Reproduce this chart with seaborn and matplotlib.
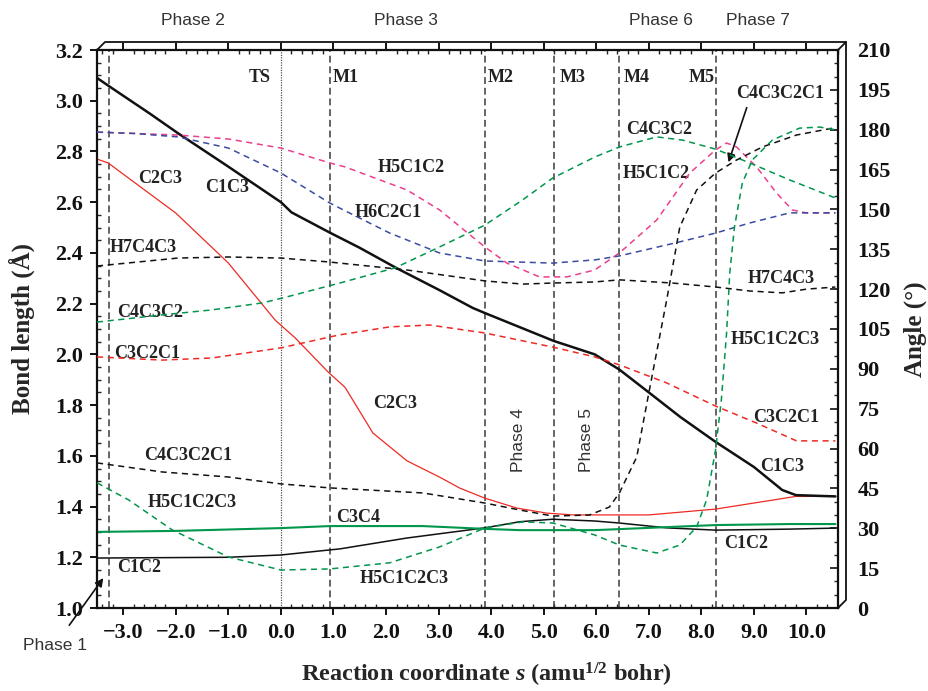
import seaborn as sns
import matplotlib.pyplot as plt
from matplotlib.lines import Line2D
from matplotlib.ticker import MultipleLocator, FuncFormatter

# ---- bond lengths (Angstrom), left axis ----
s_c1c3 = [-3.5, -3.29, -2.5, -1.96, -1.0, 0.0, 0.2, 0.93, 1.5, 2.2, 3.0, 3.65, 3.88,
          5.19, 5.97, 6.44, 7.0, 7.6, 8.27, 9.0, 9.54, 9.8, 10.55]
c1c3 = [3.09, 3.06, 2.95, 2.872, 2.74, 2.60, 2.56, 2.48, 2.42, 2.34, 2.255, 2.183, 2.163,
        2.053, 2.0, 1.94, 1.85, 1.753, 1.655, 1.556, 1.465, 1.445, 1.44]

s_c2c3 = [-3.5, -3.29, -2.0, -1.0, -0.11, 0.27, 0.9, 1.22, 1.75, 2.4, 3.02, 3.4, 3.88,
          4.49, 5.06, 5.55, 7.0, 8.27, 9.8, 10.55]
c2c3 = [2.77, 2.755, 2.557, 2.36, 2.135, 2.065, 1.93, 1.87, 1.69, 1.58, 1.516, 1.473, 1.433,
        1.394, 1.374, 1.367, 1.367, 1.39, 1.44, 1.44]

s_c1c2 = [-3.5, -1.0, 0.0, 0.93, 1.12, 2.4, 3.88, 4.54, 5.17, 5.97, 6.44, 7.34, 8.27, 9.68, 10.55]
c1c2 = [1.197, 1.20, 1.209, 1.229, 1.233, 1.276, 1.316, 1.34, 1.35, 1.343, 1.335, 1.316,
        1.307, 1.311, 1.315]

s_c3c4 = [-3.5, -2.0, 0.0, 0.93, 2.7, 3.88, 4.54, 5.97, 6.44, 8.27, 9.68, 10.55]
c3c4 = [1.30, 1.304, 1.315, 1.323, 1.323, 1.312, 1.307, 1.307, 1.311, 1.327, 1.331, 1.331]

# ---- angles (degrees), right axis ----
s_h5c1c2 = [-3.5, -1.96, -1.0, 0.0, 0.93, 1.22, 2.4, 3.02, 3.53, 3.88, 4.3, 4.92, 5.44,
            5.97, 6.44, 7.15, 7.78, 8.27, 8.48, 8.67, 9.05, 9.43, 9.73, 10.0, 10.55]
h5c1c2 = [179.1, 178, 176.5, 173.1, 167.5, 166, 157.3, 149.8, 141.5, 135.9, 129.8, 124.6, 124.6,
          127.2, 133.6, 146, 163.7, 172.4, 175, 173.5, 166, 156.2, 149.8, 148.7, 148.7]

s_h6c2c1 = [-3.5, -2.8, -1.96, -1.0, 0.0, 0.93, 1.22, 2.07, 3.02, 3.88, 5.17, 5.97, 6.44,
            7.59, 8.27, 8.92, 9.68, 10.55]
h6c2c1 = [179.1, 178.6, 177.3, 173.1, 163.7, 152.4, 149.5, 141.1, 133.6, 130.6, 129.8, 131,
          132.5, 137.8, 141.1, 144.9, 148.7, 148.7]

s_h7c4c3 = [-3.5, -1.96, -1.0, 0.0, 0.93, 1.12, 2.4, 3.88, 4.6, 5.17, 5.97, 6.44, 7.45,
            8.27, 8.92, 9.54, 10.0, 10.55]
h7c4c3 = [128.7, 131.7, 132.1, 131.7, 130.2, 129.8, 127.2, 123.1, 121.9, 122.3, 122.7, 123.5,
          122.3, 120.8, 119.3, 118.6, 120, 120.8]

s_c4c3c2 = [-3.5, -2.26, -1.31, -0.36, 0.0, 1.12, 2.17, 3.02, 3.88, 4.6, 5.17, 5.97, 6.44,
            7.15, 7.64, 8.27, 8.92, 9.68, 10.55]
c4c3c2 = [107.6, 110.3, 112.2, 114.8, 116.5, 122.3, 128, 135.9, 144.1, 153.6, 161.8, 169.7,
          173.5, 177.3, 176.1, 172.7, 167.5, 161.1, 154.3]

s_c3c2c1 = [-3.5, -2.26, -1.31, 0.0, 0.93, 1.12, 2.07, 2.83, 3.88, 5.17, 5.97, 6.44, 7.34,
            8.27, 9.05, 9.81, 10.55]
c3c2c1 = [94.5, 93.3, 94.1, 97.9, 102, 102.8, 105.8, 106.5, 103.5, 98.2, 94.5, 91.5, 84.7,
          76, 69.6, 62.9, 62.9]

s_c4c3c2c1 = [-3.5, -2.26, -1.0, 0.0, 0.93, 2.7, 3.88, 4.54, 5.17, 5.87, 6.25, 6.44, 6.77,
              7.0, 7.34, 7.59, 7.91, 8.27, 8.67, 9.16, 9.81, 10.5]
c4c3c2c1 = [54.6, 51.2, 49.3, 46.7, 45.2, 43.3, 39.5, 36.9, 34.6, 35, 38, 43.3, 56.8,
            80.9, 115.9, 143.4, 157.3, 163.7, 168.6, 173.5, 178, 180.6]

s_h5c1c2c3 = [-3.5, -2.9, -2.07, -1.0, 0.0, 0.93, 2.07, 3.02, 3.88, 4.6, 5.17, 5.97, 6.44,
              7.15, 7.59, 7.91, 8.1, 8.27, 8.38, 8.48, 8.54, 8.63, 8.78, 8.97, 9.35, 9.87,
              10.25, 10.55]
h5c1c2c3 = [47.1, 40.7, 29.4, 19.2, 14.3, 14.7, 17, 23, 30.1, 32.4, 32, 27.5, 23.7,
            20.7, 23.7, 30.5, 40.7, 59.5, 78.3, 103.5, 126, 143.4, 160, 168.6, 176.1, 180.6,
            181, 180]

# stationary points along the path
stat_s = [-3.27, 0.93, 3.88, 5.19, 6.44, 8.27]
stat_names = ['', 'M1', 'M2', 'M3', 'M4', 'M5']
ts_s = 0.0

RED = '#ee2a24'
GREEN = '#00964b'
BLUE = '#3b4ba0'
PINK = '#ec3f8c'
BLACK = '#111111'

sns.set_style('ticks')
plt.rcParams['font.family'] = ['Liberation Serif', 'DejaVu Serif']
plt.rcParams['font.weight'] = 'bold'
plt.rcParams['axes.labelweight'] = 'bold'
plt.rcParams['mathtext.fontset'] = 'custom'
plt.rcParams['mathtext.rm'] = 'Liberation Serif:bold'
plt.rcParams['mathtext.it'] = 'Liberation Serif:bold:italic'
plt.rcParams['mathtext.bf'] = 'Liberation Serif:bold'

fig = plt.figure(figsize=(9.29, 6.91), dpi=100)
ax = fig.add_axes([97 / 929, 83 / 691, 741 / 929, 558 / 691])
ax2 = ax.twinx()


def line(axis, s, v, color, lw, dashed):
    sns.lineplot(x=s, y=v, ax=axis, color=color, lw=lw, sort=False, estimator=None)
    if dashed:
        axis.lines[-1].set_dashes([4, 3])


# bonds
line(ax, s_c2c3, c2c3, RED, 0.9, False)
line(ax, s_c1c2, c1c2, BLACK, 1.1, False)
line(ax, s_c3c4, c3c4, GREEN, 1.5, False)
line(ax, s_c1c3, c1c3, BLACK, 1.8, False)

# angles
line(ax2, s_h5c1c2, h5c1c2, PINK, 1.1, True)
line(ax2, s_h6c2c1, h6c2c1, BLUE, 1.1, True)
line(ax2, s_h7c4c3, h7c4c3, BLACK, 1.1, True)
line(ax2, s_c4c3c2, c4c3c2, GREEN, 1.1, True)
line(ax2, s_c3c2c1, c3c2c1, RED, 1.1, True)
line(ax2, s_c4c3c2c1, c4c3c2c1, BLACK, 1.1, True)
line(ax2, s_h5c1c2c3, h5c1c2c3, GREEN, 1.1, True)

for x in stat_s:
    ax.axvline(x, color='#3a3a3a', lw=1.1, dashes=(4.5, 2.5), zorder=1)
ax.axvline(ts_s, color='#555555', lw=0.9, dashes=(1, 1), zorder=1)

ax.set_xlim(-3.5, 10.6)
ax.set_ylim(1.0, 3.2)
ax2.set_ylim(0, 210)

minus = lambda v, p: f'{v:.1f}'.replace('-', '\u2212')
ax.xaxis.set_major_locator(MultipleLocator(1))
ax.xaxis.set_minor_locator(MultipleLocator(0.2))
ax.xaxis.set_major_formatter(FuncFormatter(minus))
ax.yaxis.set_major_locator(MultipleLocator(0.2))
ax.yaxis.set_minor_locator(MultipleLocator(0.05))
ax.yaxis.set_major_formatter(FuncFormatter(lambda v, p: f'{v:.1f}'))
ax2.yaxis.set_major_locator(MultipleLocator(15))
ax2.yaxis.set_minor_locator(MultipleLocator(5))
ax2.yaxis.set_major_formatter(FuncFormatter(lambda v, p: f'{v:.0f}'))

ax.tick_params(axis='x', which='major', direction='out', length=5, width=1.4,
               top=True, bottom=True, labelsize=16, pad=6, colors='#111')
ax.tick_params(axis='x', which='minor', direction='in', length=3, width=1, top=True, bottom=True)
ax.tick_params(axis='y', which='major', direction='out', length=5, width=1.4,
               left=True, right=False, labelsize=16, pad=5, colors='#111')
ax.tick_params(axis='y', which='minor', direction='in', length=3, width=1, left=True, right=False)
ax2.tick_params(axis='y', which='major', direction='in', length=6, width=1.2, right=True,
                labelsize=16, pad=14, colors='#111')
ax2.tick_params(axis='y', which='minor', direction='in', length=3, width=1, right=True)

for side in ['left', 'top', 'bottom']:
    ax.spines[side].set_linewidth(1.6)
    ax.spines[side].set_color('#111')
    ax2.spines[side].set_visible(False)
ax.spines['right'].set_visible(False)
ax2.spines['right'].set_linewidth(1.6)
ax2.spines['right'].set_color('#111')

# pseudo 3D back frame
p = ax.get_position()
dx, dy = 8 / 929, 8 / 691
frame = [([p.x0, p.x0 + dx, p.x1 + dx, p.x1 + dx, p.x1],
          [p.y1, p.y1 + dy, p.y1 + dy, p.y0 + dy, p.y0]),
         ([p.x1, p.x1 + dx], [p.y1, p.y1 + dy])]
for xs, ys in frame:
    fig.add_artist(Line2D(xs, ys, transform=fig.transFigure, color='#111', lw=1.3))

# labels at stationary points
lab = dict(fontsize=13, ha='center', va='center', color='#222')
ax.text(-0.40, 3.09, 'TS', **lab)
for x, n in zip([1.24, 4.18, 5.55, 6.77, 8.0], stat_names[1:]):
    ax.text(x, 3.09, n, **lab)

# curve labels
curve_labels = [
    (-2.30, 2.695, 'C2C3'), (-1.03, 2.656, 'C1C3'), (2.47, 2.735, 'H5C1C2'),
    (2.05, 2.561, 'H6C2C1'), (7.2, 2.885, 'C4C3C2'), (7.15, 2.715, 'H5C1C2'),
    (9.49, 3.03, 'C4C3C2C1'), (-2.62, 2.423, 'H7C4C3'), (9.52, 2.30, 'H7C4C3'),
    (-2.49, 2.167, 'C4C3C2'), (-2.55, 2.005, 'C3C2C1'), (9.41, 2.057, 'H5C1C2C3'),
    (2.17, 1.808, 'C2C3'), (9.62, 1.753, 'C3C2C1'), (-1.77, 1.603, 'C4C3C2C1'),
    (-1.69, 1.414, 'H5C1C2C3'), (1.46, 1.355, 'C3C4'), (9.54, 1.556, 'C1C3'),
    (-2.70, 1.161, 'C1C2'), (8.86, 1.256, 'C1C2'), (2.34, 1.118, 'H5C1C2C3'),
]
for x, y, t in curve_labels:
    ax.text(x, y, t, **lab)

ax.annotate('', xy=(8.50, 2.747), xytext=(8.88, 2.983),
            arrowprops=dict(arrowstyle='-|>', color='#111', lw=1.2, mutation_scale=12))

# phase labels
ph = dict(fontsize=12.5, ha='center', va='center', color='#333',
          fontweight='normal', family='Liberation Sans', clip_on=False)
for x, t in [(-1.67, 'Phase 2'), (2.38, 'Phase 3'), (7.24, 'Phase 6'), (9.07, 'Phase 7')]:
    ax.text(x, 3.318, t, **ph)
ax.text(4.52, 1.662, 'Phase 4', rotation=90, **ph)
ax.text(5.82, 1.662, 'Phase 5', rotation=90, **ph)
ax.annotate('Phase 1', xy=(-3.38, 1.118), xytext=(-4.30, 0.854), annotation_clip=False,
            fontsize=12.5, ha='center', va='center', color='#333', fontweight='normal',
            family='Liberation Sans',
            arrowprops=dict(arrowstyle='-|>', color='#111', lw=1.2, mutation_scale=12,
                            shrinkA=8, shrinkB=0))

# axis titles
fig.text(22 / 929, 1 - 329 / 691, 'Bond length (Å)', rotation=90, ha='center', va='center',
         fontsize=18)
fig.text(915 / 929, 1 - 329 / 691, 'Angle (°)', rotation=90, ha='center', va='center',
         fontsize=18)
fig.text(486 / 929, 1 - 675 / 691, r'Reaction coordinate $\mathit{s}$ (amu$^{1/2}$ bohr)',
         ha='center', va='center', fontsize=17.5)

fig.savefig('out.png', dpi=100, facecolor='white')
